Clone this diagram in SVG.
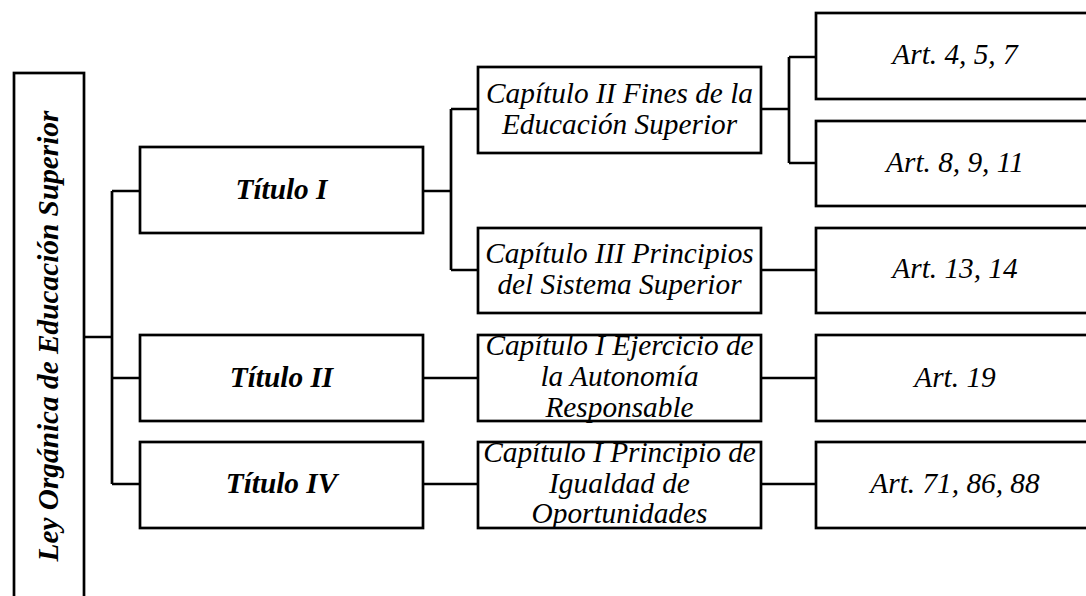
<svg xmlns="http://www.w3.org/2000/svg" width="1086" height="596" viewBox="0 0 1086 596">
<style>
.box{fill:#fff;stroke:#000;stroke-width:2.7}
.ln{fill:none;stroke:#000;stroke-width:2.7}
.t{font-family:"Liberation Serif","Times New Roman",serif;font-style:italic;font-size:29.3px;fill:#000;text-anchor:middle}
.b{font-weight:bold}
</style>
<rect width="1086" height="596" fill="#fff"/>
<g id="connectors">
<path class="ln" d="M84,337 H112 M112,191 V484 M112,191 H140 M112,378 H140 M112,484 H140"/>
<path class="ln" d="M423,191 H451 M451,109 V270 M451,109 H478 M451,270 H478"/>
<path class="ln" d="M761,109 H789 M789,57 V163 M789,57 H816 M789,163 H816 M761,270 H816"/>
<path class="ln" d="M423,378 H478 M761,378 H816 M423,484 H478 M761,484 H816"/>
</g>
<g id="root">
<rect class="box" x="14" y="73" width="70" height="540"/>
<text class="t b" transform="translate(58,336) rotate(-90)">Ley Orgánica de Educación Superior</text>
</g>
<g id="titulo1">
<rect class="box" x="140" y="147" width="283" height="86"/>
<text class="t b" x="281.5" y="199">Título I</text>
</g>
<g id="titulo2">
<rect class="box" x="140" y="335" width="283" height="86"/>
<text class="t b" x="281.5" y="387">Título II</text>
</g>
<g id="titulo4">
<rect class="box" x="140" y="442" width="283" height="86"/>
<text class="t b" x="281.5" y="493">Título IV</text>
</g>
<g id="cap2">
<rect class="box" x="478" y="67" width="283" height="86"/>
<text class="t" x="619.5" y="103">Capítulo II Fines de la</text>
<text class="t" x="619.5" y="134">Educación Superior</text>
</g>
<g id="cap3">
<rect class="box" x="478" y="228" width="283" height="85"/>
<text class="t" x="619.5" y="263">Capítulo III Principios</text>
<text class="t" x="619.5" y="294">del Sistema Superior</text>
</g>
<g id="cap1a">
<rect class="box" x="478" y="335" width="283" height="86"/>
<text class="t" x="619.5" y="355">Capítulo I Ejercicio de</text>
<text class="t" x="619.5" y="386">la Autonomía</text>
<text class="t" x="619.5" y="417">Responsable</text>
</g>
<g id="cap1b">
<rect class="box" x="478" y="442" width="283" height="86"/>
<text class="t" x="619.5" y="462">Capítulo I Principio de</text>
<text class="t" x="619.5" y="493">Igualdad de</text>
<text class="t" x="619.5" y="523">Oportunidades</text>
</g>
<g id="art457">
<rect class="box" x="816" y="13" width="278" height="86"/>
<text class="t" x="955" y="64">Art. 4, 5, 7</text>
</g>
<g id="art8911">
<rect class="box" x="816" y="121" width="278" height="85"/>
<text class="t" x="955" y="172">Art. 8, 9, 11</text>
</g>
<g id="art1314">
<rect class="box" x="816" y="228" width="278" height="85"/>
<text class="t" x="955" y="278">Art. 13, 14</text>
</g>
<g id="art19">
<rect class="box" x="816" y="335" width="278" height="86"/>
<text class="t" x="955" y="387">Art. 19</text>
</g>
<g id="art718688">
<rect class="box" x="816" y="442" width="278" height="86"/>
<text class="t" x="955" y="493">Art. 71, 86, 88</text>
</g>
</svg>
